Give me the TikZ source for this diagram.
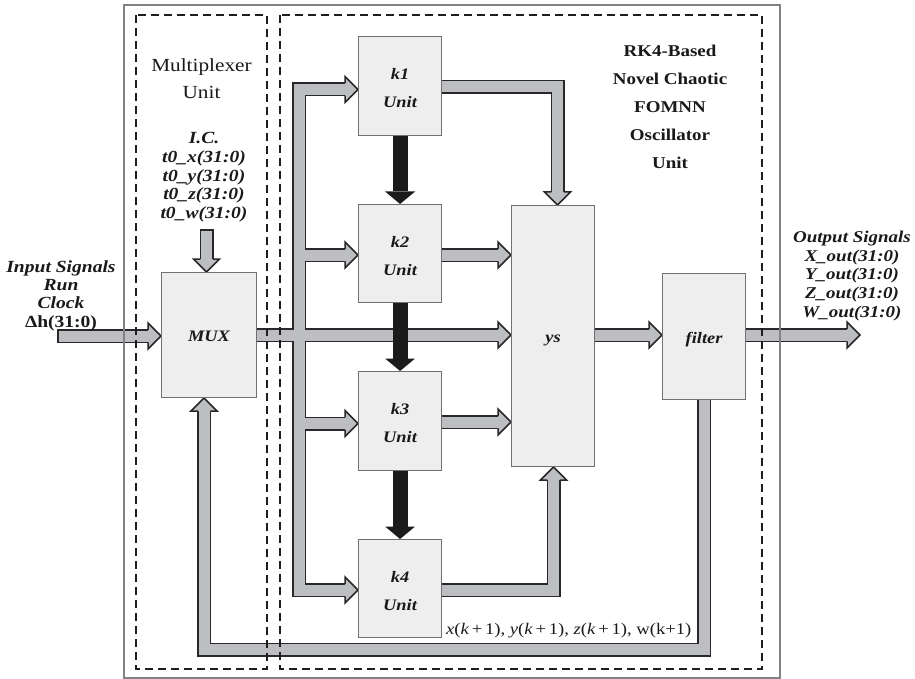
\documentclass[tikz,border=0pt]{standalone}
\usepackage{fontspec}
\setmainfont{Liberation Serif}[FakeStretch=1.15]
\usetikzlibrary{calc}
\definecolor{busfill}{RGB}{189,190,194}
\definecolor{busline}{RGB}{40,40,40}
\definecolor{boxfill}{RGB}{238,238,238}
\definecolor{boxline}{RGB}{112,112,112}
\definecolor{txt}{RGB}{25,25,25}
\definecolor{dashc}{RGB}{30,30,30}
\definecolor{framec}{RGB}{130,130,130}
\definecolor{blk}{RGB}{27,27,27}
\newcommand\ghead[2]{\begin{scope}[shift={#1},rotate=#2]
  \fill[busfill] (0,0) -- (-13,-13) -- (-13,13) -- cycle;
  \draw[busline,line width=1.5pt,line join=miter] (-13,-6.25) -- (-13,-13) -- (0,0) -- (-13,13) -- (-13,6.25);
\end{scope}}
\newcommand\bhead[2]{\begin{scope}[shift={#1},rotate=#2]
  \fill[blk] (0,0) -- (-12.5,-15) -- (-12.5,15) -- cycle;
\end{scope}}
\newcommand\buspaths[1]{%
  \draw[#1] (345,89.5) -- (299,89.5) -- (299,590) -- (345,590);
  \draw[#1] (299,255) -- (345,255);
  \draw[#1] (299,423.5) -- (345,423.5);
  \draw[#1] (256,335) -- (498,335);
  \draw[#1] (441,87) -- (557.5,87) -- (557.5,192);
  \draw[#1] (441,255) -- (498,255);
  \draw[#1] (441,422) -- (498,422);
  \draw[#1] (441,590) -- (553.5,590) -- (553.5,480);
  \draw[#1] (594,335) -- (649,335);
  \draw[#1] (745,335) -- (847,335);
  \draw[#1] (704,399) -- (704,649.5) -- (204,649.5) -- (204,411);
}
\tikzset{
  darkpass/.style={busline,line width=14pt,line join=miter},
  graypass/.style={busfill,line width=11pt,line join=miter},
  box/.style={draw=boxline,fill=boxfill,line width=1.1pt,inner sep=0pt,anchor=north west},
  lbl/.style={anchor=base,inner sep=0pt,text=txt},
  bi/.style={lbl,font=\fontsize{17}{17}\selectfont\bfseries\itshape},
  bu/.style={lbl,font=\fontsize{16.5}{16.5}\selectfont\bfseries},
  ub/.style={lbl,font=\fontsize{16}{16}\selectfont\bfseries\itshape},
  dashbox/.style={dashc,line width=2pt,dash pattern=on 8pt off 5pt},
}
\begin{document}
\begin{tikzpicture}[x=1pt,y=-1pt]
\useasboundingbox (0,0) rectangle (915,679);
% buses
\buspaths{darkpass}
\draw[darkpass] (57,336) -- (148,336);
\draw[darkpass] (206.5,229) -- (206.5,259);
\buspaths{graypass}
\draw[graypass] (58.5,336) -- (148,336);
\draw[graypass] (206.5,230.5) -- (206.5,259);
% gray heads
\ghead{(358,89.5)}{0}
\ghead{(358,255)}{0}
\ghead{(358,423.5)}{0}
\ghead{(358,590)}{0}
\ghead{(511,335)}{0}
\ghead{(511,255)}{0}
\ghead{(511,422)}{0}
\ghead{(557.5,205)}{-90}
\ghead{(553.5,467)}{90}
\ghead{(662,335)}{0}
\ghead{(860,335)}{0}
\ghead{(161,336)}{0}
\ghead{(206.5,272)}{-90}
\ghead{(204,398)}{90}
% boxes
\node[box,minimum width=95,minimum height=125] (mux) at (161,272) {};
\node[box,minimum width=83,minimum height=99] (k1) at (358,36) {};
\node[box,minimum width=83,minimum height=98] (k2) at (358,204) {};
\node[box,minimum width=83,minimum height=99] (k3) at (358,371) {};
\node[box,minimum width=83,minimum height=98] (k4) at (358,539) {};
\node[box,minimum width=83,minimum height=261] (ys) at (511,205) {};
\node[box,minimum width=83,minimum height=126] (filter) at (662,273) {};
% black arrows
\draw[blk,line width=15pt] (k1.south) -- ($(k2.north)+(0,-12.5)$);
\bhead{(k2.north)}{-90}
\draw[blk,line width=15pt] (k2.south) -- ($(k3.north)+(0,-12.5)$);
\bhead{(k3.north)}{-90}
\draw[blk,line width=15pt] (k3.south) -- ($(k4.north)+(0,-12.5)$);
\bhead{(k4.north)}{-90}
% frames
\draw[framec,line width=1.3pt] (124,5) rectangle (780,678);
\draw[dashbox] (136,15) rectangle (267,669);
\draw[dashbox] (280,15) rectangle (762,669);
% box labels
\foreach \n/\t in {k1/k1,k2/k2,k3/k3,k4/k4}{
  \node[ub] at ($(\n.center)+(0,-6.5)$) {\t};
  \node[ub] at ($(\n.center)+(0,21.5)$) {Unit};
}
\node[ub] at ($(mux.center)+(0,6.5)$) {MUX};
\node[ub] at ($(ys.center)+(0,6.5)$) {ys};
\node[ub] at ($(filter.center)+(0,6.5)$) {filter};
% multiplexer title
\node[lbl,font=\fontsize{18.5}{18.5}\selectfont] at (201.5,72) {Multiplexer};
\node[lbl,font=\fontsize{18.5}{18.5}\selectfont] at (201.5,99) {Unit};
% I.C.
\node[bi] at (204,144) {I.C.};
\node[bi] at (204,163) {t0\_x(31:0)};
\node[bi] at (204,182) {t0\_y(31:0)};
\node[bi] at (204,200) {t0\_z(31:0)};
\node[bi] at (204,218.5) {t0\_w(31:0)};
% input
\node[bi] at (61,272) {Input Signals};
\node[bi] at (61,290) {Run};
\node[bi] at (61,308.5) {Clock};
\node[lbl,font=\fontsize{17}{17}\selectfont\bfseries] at (61,327) {Δh(31:0)};
% RK4 title
\node[bu] at (670,57) {RK4-Based};
\node[bu] at (670,85) {Novel Chaotic};
\node[bu] at (670,113) {FOMNN};
\node[bu] at (670,141) {Oscillator};
\node[bu] at (670,169) {Unit};
% output
\node[bi,font=\fontsize{16.5}{16.5}\selectfont\bfseries\itshape] at (852,242) {Output Signals};
\node[bi,font=\fontsize{16.5}{16.5}\selectfont\bfseries\itshape] at (852,261) {X\_out(31:0)};
\node[bi,font=\fontsize{16.5}{16.5}\selectfont\bfseries\itshape] at (852,279.5) {Y\_out(31:0)};
\node[bi,font=\fontsize{16.5}{16.5}\selectfont\bfseries\itshape] at (852,298) {Z\_out(31:0)};
\node[bi,font=\fontsize{16.5}{16.5}\selectfont\bfseries\itshape] at (852,317) {W\_out(31:0)};
% feedback label
\node[lbl,anchor=base west,font=\fontsize{16.2}{16.2}\selectfont] (fb) at (446,634)
  {\textit{x}(\textit{k}\,+\,1), \textit{y}(\textit{k}\,+\,1), \textit{z}(\textit{k}\,+\,1), w(k+1)};
\end{tikzpicture}
\end{document}
